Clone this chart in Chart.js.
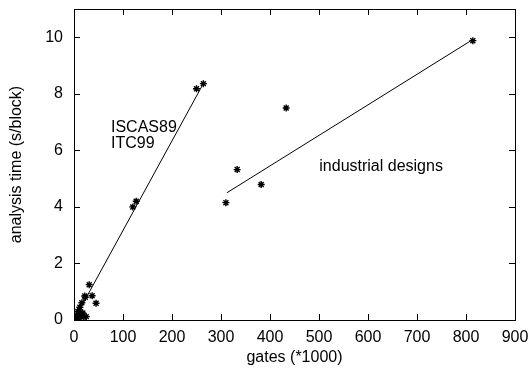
<!DOCTYPE html>
<html>
<head>
<meta charset="utf-8">
<script src="https://cdn.jsdelivr.net/npm/chart.js@4"></script>
<style>
  html, body { margin: 0; padding: 0; background: #fff; }
  #wrap { width: 532px; height: 373px; }
</style>
</head>
<body>
<div id="wrap"><canvas id="c" width="532" height="373"></canvas></div>
<script>
// ---- Data ----
const benchX = [1, 2, 3, 4, 5, 6, 8, 9, 10, 11, 12, 13, 15, 16, 18, 20, 22, 23, 25, 31, 37, 45, 120, 127, 250, 264];
const benchY = [0.02, 0.05, 0.04, 0.1, 0.15, 0.08, 0.3, 0.2, 0.05, 0.35, 0.45, 0.15, 0.2, 0.61, 0.25, 0.1, 0.85, 0.8, 0.12, 1.25, 0.86, 0.59, 4.0, 4.2, 8.18, 8.36];
const indX = [310, 333, 382, 433, 814];
const indY = [4.15, 5.32, 4.79, 7.5, 9.88];
const fitBenchX = [0, 262];
const fitBenchY = [0, 8.3];
const fitIndX = [312, 812];
const fitIndY = [4.5, 9.9];
const xTicks = [0, 100, 200, 300, 400, 500, 600, 700, 800, 900];
const yTicks = [0, 2, 4, 6, 8, 10];
const notes = [
  { x: 75.5, y: 6.64, text: 'ISCAS89' },
  { x: 75.5, y: 6.09, text: 'ITC99' },
  { x: 500.6, y: 5.28, text: 'industrial designs' }
];

const font = 'Liberation Sans, Arial, Helvetica, sans-serif';
const pts = (xs, ys) => xs.map((x, i) => ({ x, y: ys[i] }));

// ---- Gnuplot-style frame: box + inward ticks on all four sides ----
const framePlugin = {
  id: 'frame',
  afterDraw(chart) {
    const { ctx, chartArea: a, scales } = chart;
    ctx.save();
    ctx.strokeStyle = '#000';
    ctx.lineWidth = 1;
    ctx.strokeRect(a.left + 0.5, a.top + 0.5, a.right - a.left, a.bottom - a.top);
    ctx.beginPath();
    xTicks.forEach(v => {
      const px = Math.round(scales.x.getPixelForValue(v)) + 0.5;
      ctx.moveTo(px, a.bottom); ctx.lineTo(px, a.bottom - 6);
      ctx.moveTo(px, a.top); ctx.lineTo(px, a.top + 6);
    });
    yTicks.forEach(v => {
      const py = Math.round(scales.y.getPixelForValue(v)) + 0.5;
      ctx.moveTo(a.left, py); ctx.lineTo(a.left + 6, py);
      ctx.moveTo(a.right, py); ctx.lineTo(a.right - 6, py);
    });
    ctx.stroke();
    // text labels next to the fitted lines
    ctx.fillStyle = '#000';
    ctx.font = '16px ' + font;
    ctx.textAlign = 'left';
    ctx.textBaseline = 'alphabetic';
    notes.forEach(n => {
      ctx.fillText(n.text, scales.x.getPixelForValue(n.x), scales.y.getPixelForValue(n.y));
    });
    ctx.restore();
  }
};

new Chart(document.getElementById('c'), {
  type: 'scatter',
  data: {
    datasets: [
      {
        label: 'benchmarks',
        data: pts(benchX, benchY),
        pointStyle: 'star', pointRadius: 3.5, borderColor: '#000', borderWidth: 1.4,
        backgroundColor: '#000'
      },
      {
        label: 'industrial',
        data: pts(indX, indY),
        pointStyle: 'star', pointRadius: 3.5, borderColor: '#000', borderWidth: 1.4,
        backgroundColor: '#000'
      },
      {
        label: 'fit1', type: 'line',
        data: pts(fitBenchX, fitBenchY),
        borderColor: '#000', borderWidth: 1, pointRadius: 0, fill: false
      },
      {
        label: 'fit2', type: 'line',
        data: pts(fitIndX, fitIndY),
        borderColor: '#000', borderWidth: 1, pointRadius: 0, fill: false
      }
    ]
  },
  options: {
    responsive: false,
    animation: false,
    layout: { padding: { top: 9, right: 17, left: 0, bottom: 0 } },
    plugins: { legend: { display: false }, tooltip: { enabled: false } },
    scales: {
      x: {
        type: 'linear', min: 0, max: 900,
        afterBuildTicks: s => { s.ticks = xTicks.map(v => ({ value: v })); },
        afterFit: s => { s.height = 53; s.paddingLeft = 0; s.paddingRight = 0; },
        grid: { display: false, drawTicks: false },
        border: { display: false },
        ticks: { color: '#000', padding: 8, font: { family: font, size: 16 } },
        title: { display: true, text: 'gates (*1000)', color: '#000', padding: { top: 4, bottom: 6 }, font: { family: font, size: 16 } }
      },
      y: {
        type: 'linear', min: 0, max: 11,
        afterBuildTicks: s => { s.ticks = yTicks.map(v => ({ value: v })); },
        afterFit: s => { s.width = 74; s.paddingTop = 0; s.paddingBottom = 0; },
        grid: { display: false, drawTicks: false },
        border: { display: false },
        ticks: { color: '#000', padding: 11, font: { family: font, size: 16 } },
        title: { display: true, text: 'analysis time (s/block)', color: '#000', padding: { top: 7, bottom: 4 }, font: { family: font, size: 16 } }
      }
    }
  },
  plugins: [framePlugin]
});
</script>
</body>
</html>
